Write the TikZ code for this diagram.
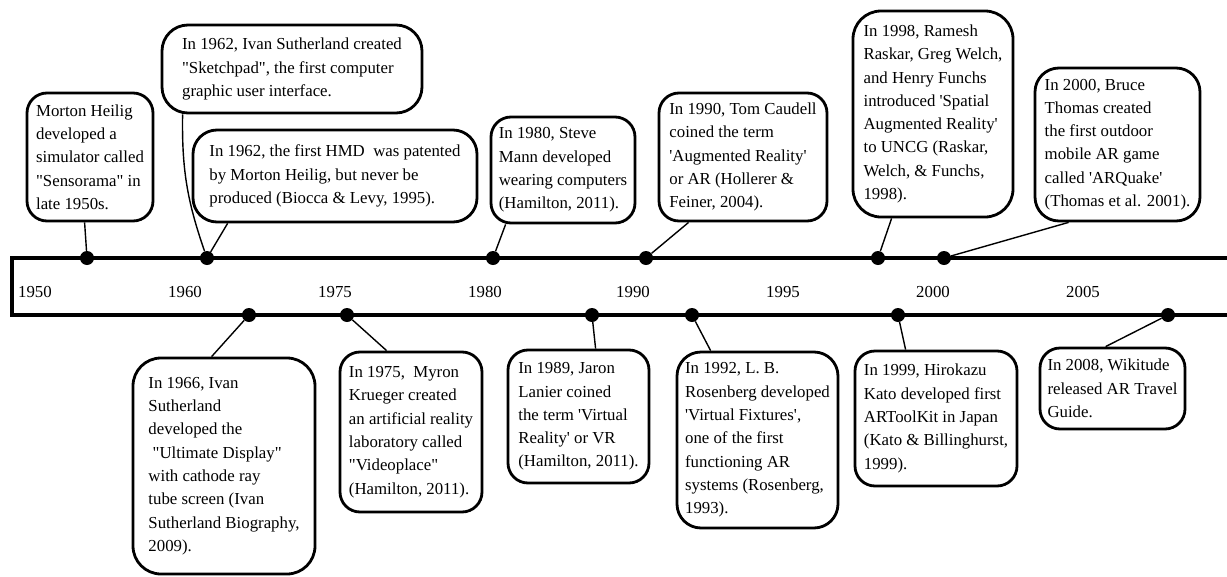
\documentclass[tikz,border=0pt]{standalone}
\usepackage{fontspec}
\setmainfont{Liberation Serif}[Ligatures=TeXOff]

\begin{document}
\begin{tikzpicture}[x=1pt,y=-1pt,
        every node/.style={font=\fontsize{16.8}{23.3}\selectfont},
        evt/.style={draw,line width=2.8pt,rounded corners=20pt,align=left,inner sep=0pt},
        dot/.style={circle,fill,inner sep=0pt,minimum size=14pt},
        link/.style={line width=1.4pt},
        yr/.style={anchor=center}]
        \useasboundingbox (0,0) rectangle (1227,576);
        \draw[line width=3.5pt] (1227,258) -| (12,315) -- (1227,315);
        \node[yr] (y50) at (35,292) {1950};
        \node[yr] (y60) at (185,292) {1960};
        \node[yr] (y75) at (335,292) {1975};
        \node[yr] (y80) at (485,292) {1980};
        \node[yr] (y90) at (633,292) {1990};
        \node[yr] (y95) at (783,292) {1995};
        \node[yr] (y00) at (933,292) {2000};
        \node[yr] (y05) at (1083,292) {2005};

        \node[dot] (t57) at (87,258) {};
        \node[dot] (t62) at (207,258) {};
        \node[dot] (t80) at (493,258) {};
        \node[dot] (t90) at (646,258) {};
        \node[dot] (t98) at (878,258) {};
        \node[dot] (t00) at (944,258) {};
        \node[dot] (b66) at (249,315) {};
        \node[dot] (b75) at (347,315) {};
        \node[dot] (b89) at (592,315) {};
        \node[dot] (b92) at (692,315) {};
        \node[dot] (b99) at (898,315) {};
        \node[dot] (b08) at (1168,315) {};

        \node[evt,minimum width=126pt,minimum height=128pt] (heilig) at (90,157)
            {Morton Heilig\\developed a\\simulator called\\"Sensorama" in\\late 1950s.};
        \node[evt,minimum width=260pt,minimum height=88pt,rounded corners=26pt] (sketch) at (292,69)
            {In 1962, Ivan Sutherland created\\"Sketchpad", the first computer\\graphic user interface.};
        \node[evt,minimum width=284pt,minimum height=92pt,rounded corners=24pt] (hmd) at (335,176)
            {In 1962, the first HMD\ \ was patented\\by Morton Heilig, but never be\\produced (Biocca \& Levy, 1995).};
        \node[evt,minimum width=144pt,minimum height=106pt] (mann) at (563,170)
            {In 1980, Steve\\Mann developed\\wearing computers\\(Hamilton, 2011).};
        \node[evt,minimum width=168pt,minimum height=128pt] (caudell) at (743,157)
            {In 1990, Tom Caudell\\coined the term\\'Augmented Reality'\\or AR (Hollerer \&\\Feiner, 2004).};
        \node[evt,minimum width=160pt,minimum height=206pt,rounded corners=28pt] (raskar) at (933,114)
            {In 1998, Ramesh\\Raskar, Greg Welch,\\and Henry Funchs\\introduced 'Spatial\\Augmented Reality'\\to UNCG (Raskar,\\Welch, \& Funchs,\\1998).};
        \node[evt,minimum width=165pt,minimum height=153pt,rounded corners=24pt] (thomas) at (1117.5,144.5)
            {In 2000, Bruce\\Thomas created\\the first outdoor\\mobile AR game\\called 'ARQuake'\\(Thomas et al. 2001).};

        \node[evt,minimum width=182pt,minimum height=216pt,rounded corners=28pt] (ivan) at (224,466)
            {In 1966, Ivan\\Sutherland\\developed the\\\ "Ultimate Display"\\with cathode ray\\tube screen (Ivan\\Sutherland Biography,\\2009).};
        \node[evt,minimum width=142pt,minimum height=160pt] (krueger) at (411,432)
            {In 1975,\ \ Myron\\Krueger created\\an artificial reality\\laboratory called\\"Videoplace"\\(Hamilton, 2011).};
        \node[evt,minimum width=141pt,minimum height=133pt] (lanier) at (578.5,416.5)
            {In 1989, Jaron\\Lanier coined\\the term 'Virtual\\Reality' or VR\\(Hamilton, 2011).};
        \node[evt,minimum width=161pt,minimum height=176pt,rounded corners=24pt] (rosen) at (757.5,440)
            {In 1992, L. B.\\Rosenberg developed\\'Virtual Fixtures',\\one of the first\\functioning AR\\systems (Rosenberg,\\1993).};
        \node[evt,minimum width=162pt,minimum height=135pt] (kato) at (936,418.5)
            {In 1999, Hirokazu\\Kato developed first\\ARToolKit in Japan\\(Kato \& Billinghurst,\\1999).};
        \node[evt,minimum width=145pt,minimum height=81pt] (wiki) at (1112.5,388.5)
            {In 2008, Wikitude\\released AR Travel\\Guide.};

        \draw[link] (t57) -- ([xshift=59pt]heilig.south west);
        \draw[link] (t62) to[bend left=10] ([xshift=22pt]sketch.south west);
        \draw[link] (t62) -- ([xshift=36pt]hmd.south west);
        \draw[link] (t80) -- ([xshift=16pt]mann.south west);
        \draw[link] (t90) -- ([xshift=31pt]caudell.south west);
        \draw[link] (t98) -- ([xshift=40pt]raskar.south west);
        \draw[link] (t00) -- ([xshift=35pt]thomas.south west);
        \draw[link] (b66) -- ([xshift=80pt]ivan.north west);
        \draw[link] (b75) -- ([xshift=48pt]krueger.north west);
        \draw[link] (b89) -- ([xshift=89pt]lanier.north west);
        \draw[link] (b92) -- ([xshift=35pt]rosen.north west);
        \draw[link] (b99) -- ([xshift=52pt]kato.north west);
        \draw[link] (b08) -- ([xshift=67pt]wiki.north west);
    \end{tikzpicture}
\end{document}
